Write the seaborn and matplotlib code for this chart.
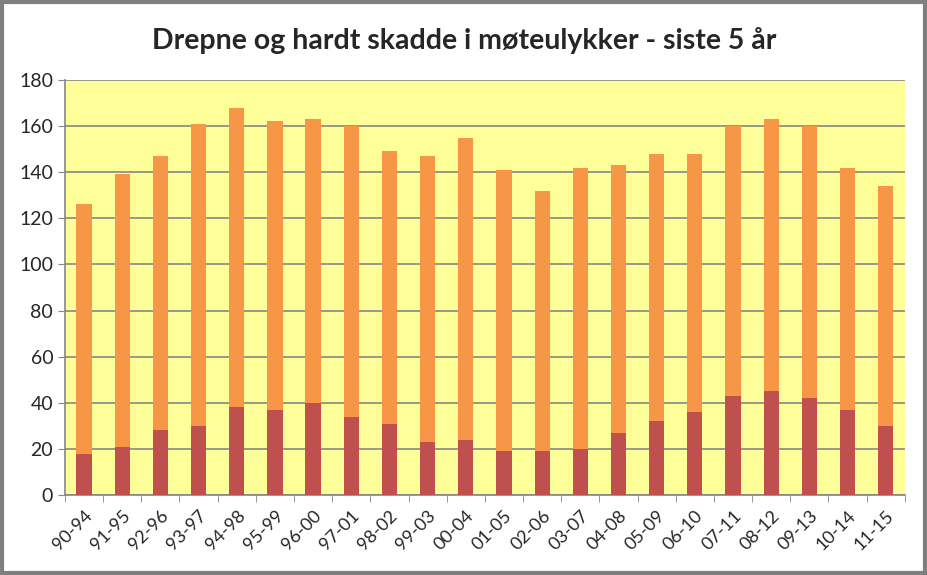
import matplotlib
matplotlib.use("Agg")
from matplotlib import pyplot as plt
from matplotlib.patches import Rectangle
import numpy as np
import pandas as pd
import seaborn as sns

# Data
perioder = ["90-94", "91-95", "92-96", "93-97", "94-98", "95-99", "96-00", "97-01",
            "98-02", "99-03", "00-04", "01-05", "02-06", "03-07", "04-08", "05-09",
            "06-10", "07-11", "08-12", "09-13", "10-14", "11-15"]
drepte = [18, 21, 28, 30, 38, 37, 40, 34, 31, 23, 24, 19, 19, 20, 27, 32, 36, 43, 45, 42, 37, 30]
hardt_skadde = [108, 118, 119, 131, 130, 125, 123, 126, 118, 124, 131, 122, 113, 122, 116, 116,
                112, 117, 118, 118, 105, 104]

df = pd.DataFrame({"periode": perioder, "drepte": drepte, "hardt": hardt_skadde})
df["total"] = df["drepte"] + df["hardt"]

sns.set_style("white")
plt.rcParams['font.family'] = ['Lato', 'DejaVu Sans']

fig = plt.figure(figsize=(9.28, 5.75), dpi=100)
ax = fig.add_axes([0.070, 0.139, 0.905, 0.722])
ax.set_facecolor("#FFFF99")

# stacked: total (orange) behind, killed (red) in front
sns.barplot(data=df, x="periode", y="total", color="#F79646", width=0.4,
            saturation=1, linewidth=0, ax=ax, zorder=3)
sns.barplot(data=df, x="periode", y="drepte", color="#C0504D", width=0.4,
            saturation=1, linewidth=0, ax=ax, zorder=4)

ax.set_ylim(0, 180)
ax.set_xlim(-0.5, len(perioder) - 0.5)
ax.set_yticks(np.arange(0, 181, 20))
ax.yaxis.grid(True, color="#868686", linewidth=1.2, zorder=0)
ax.set_axisbelow(True)
ax.set_xlabel("")
ax.set_ylabel("")

ax.set_xticks(np.arange(len(perioder)))
ax.set_xticklabels(perioder, rotation=45, ha="right", rotation_mode="anchor", fontsize=13)
ax.tick_params(axis="x", which="major", length=0, pad=9)
ax.set_xticks(np.arange(-0.5, len(perioder)), minor=True)
ax.tick_params(axis="x", which="minor", length=5, color="#868686", direction="out", bottom=True)
ax.tick_params(axis="y", labelsize=14, length=5, color="#868686", direction="out", left=True)

for s in ["top", "right"]:
    ax.spines[s].set_visible(False)
for s in ["left", "bottom"]:
    ax.spines[s].set_color("#868686")
    ax.spines[s].set_linewidth(1.2)

fig.text(0.5, 0.93, "Drepne og hardt skadde i møteulykker - siste 5 år",
         ha="center", va="center", fontsize=20.5, fontweight="bold")

# outer frame
fig.patches.append(Rectangle((0.002, 0.003), 0.995, 0.994, transform=fig.transFigure,
                             fill=False, edgecolor="#7F7F7F", linewidth=3))

fig.savefig("out.png", dpi=100)
